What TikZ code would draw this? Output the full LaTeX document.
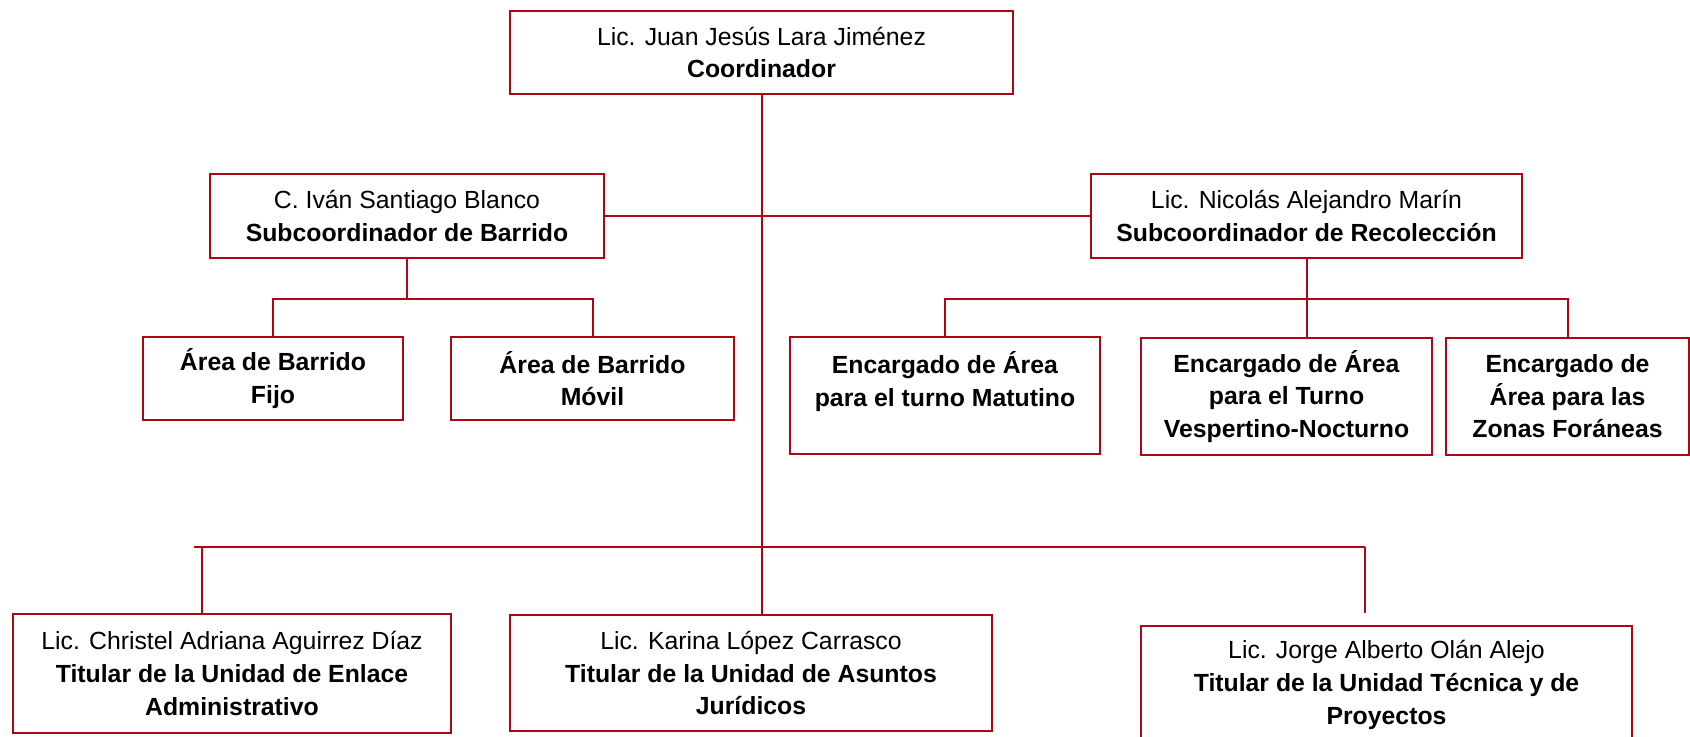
\documentclass[tikz,border=0pt]{standalone}
\usepackage{fontspec}
\setmainfont{Liberation Sans}
\usetikzlibrary{positioning}

\definecolor{rojo}{RGB}{172,8,20}

\tikzset{
    puesto/.style={draw=rojo, line width=1pt, align=center, inner sep=0pt,
        font=\fontsize{12.4}{16.3}\selectfont},
    linea/.style={draw=rojo, line width=1pt},
}

\begin{document}
\begin{tikzpicture}[x=0.5pt, y=-0.5pt]
    \useasboundingbox (0,0) rectangle (1690,736);

    % coordinador
    \node[puesto, minimum width=251.5pt, minimum height=41.5pt] (coord) at (761.5,52.5)
        {Lic. Juan Jesús Lara Jiménez\\\textbf{Coordinador}};

    % subcoordinadores
    \node[puesto, minimum width=197pt, minimum height=42pt] (subbar) at (407,216)
        {C. Iván Santiago Blanco\\\textbf{Subcoordinador de Barrido}};
    \node[puesto, minimum width=215.5pt, minimum height=42pt] (subrec) at (1306.5,216)
        {Lic. Nicolás Alejandro Marín\\\textbf{Subcoordinador de Recolección}};

    % areas de barrido
    \node[puesto, minimum width=130pt, minimum height=41.5pt] (fijo) at (273,378.5)
        {\textbf{Área de Barrido}\\\textbf{Fijo}};
    \node[puesto, minimum width=141.5pt, minimum height=41.5pt] (movil) at (592.5,378.5)
        {\textbf{Área de Barrido}\\\textbf{Móvil}};

    % encargados de recoleccion
    \node[puesto, minimum width=155pt, minimum height=58.5pt] (matut) at (945,395.5)
        {\textbf{Encargado de Área}\\\textbf{para el turno Matutino}\\~};
    \node[puesto, minimum width=145.5pt, minimum height=58.5pt] (vesp) at (1286.5,396.5)
        {\textbf{Encargado de Área}\\\textbf{para el Turno}\\\textbf{Vespertino-Nocturno}};
    \node[puesto, minimum width=121.5pt, minimum height=58.5pt] (foran) at (1567.5,396.5)
        {\textbf{Encargado de}\\\textbf{Área para las}\\\textbf{Zonas Foráneas}};

    % titulares
    \node[puesto, minimum width=219pt, minimum height=59.5pt] (enlace) at (232,673.5)
        {Lic. Christel Adriana Aguirrez Díaz\\\textbf{Titular de la Unidad de Enlace}\\\textbf{Administrativo}};
    \node[puesto, minimum width=241pt, minimum height=58pt] (jurid) at (751,673)
        {Lic. Karina López Carrasco\\\textbf{Titular de la Unidad de Asuntos}\\\textbf{Jurídicos}};
    \node[puesto, minimum width=245.5pt, minimum height=59pt] (tecnica) at (1386.5,685)
        {Lic. Jorge Alberto Olán Alejo\\\textbf{Titular de la Unidad Técnica y de}\\\textbf{Proyectos}};

    % junctions
    \coordinate (jbar) at (407,299);
    \coordinate (jrec) at (1306,299);
    \coordinate (jtit) at (194,547);
    \coordinate (jenl) at (202,547);
    \coordinate (jtec) at (1365,547);

    % lines
    \draw[linea] (coord.south) -- (coord.south |- jurid.north);
    \draw[linea] (subbar.east) -- (subrec.west);
    \draw[linea] (subbar.south) -- (jbar);
    \draw[linea] (fijo.north) |- (jbar) -| (movil.north);
    \draw[linea] (subrec.south) -- (subrec.south |- vesp.north);
    \draw[linea] (matut.north) |- (jrec) -| (foran.north);
    \draw[linea] (jtit) -- (jtec);
    \draw[linea] (jenl) -- (jenl |- enlace.north);
    \draw[linea, shorten >=6pt] (jtec) -- (jtec |- tecnica.north);
\end{tikzpicture}
\end{document}
